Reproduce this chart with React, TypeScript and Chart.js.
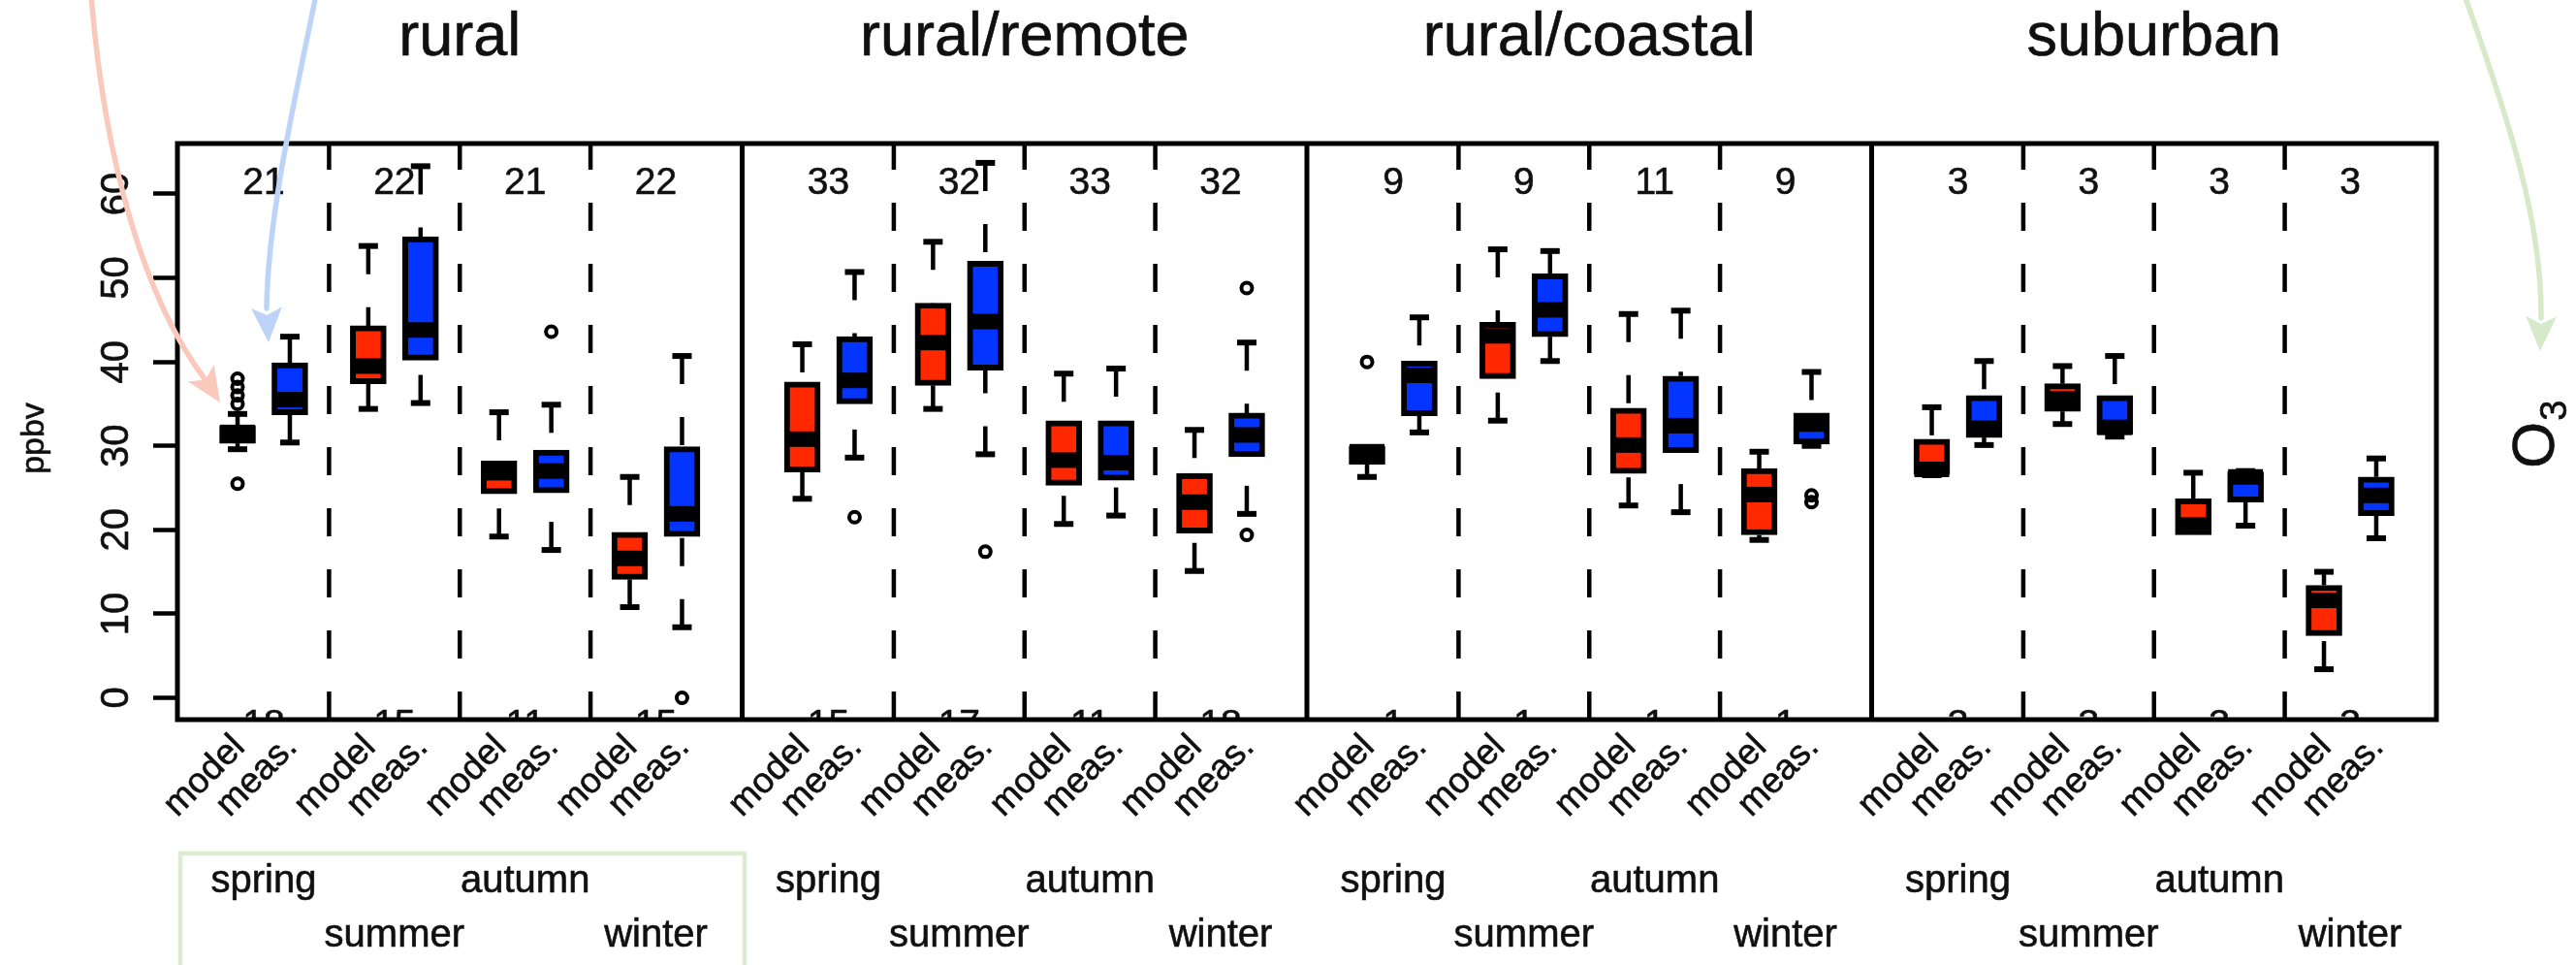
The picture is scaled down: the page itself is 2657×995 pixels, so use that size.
import React, { useEffect, useRef } from 'react';
import { Chart, registerables } from 'chart.js';

Chart.register(...registerables);

const CANVAS_W = 2657;
const CANVAS_H = 995;

const panelNames = ['rural', 'rural/remote', 'rural/coastal', 'suburban'];
const seasonNames = ['spring', 'summer', 'autumn', 'winter'];
const sourceNames = ['model', 'meas.'];
const yTickValues = [0, 10, 20, 30, 40, 50, 60];

const stationCountsTop = [
  ['21', '22', '21', '22'],
  ['33', '32', '33', '32'],
  ['9', '9', '11', '9'],
  ['3', '3', '3', '3'],
];
const stationCountsBottom = [
  ['18', '15', '11', '15'],
  ['15', '17', '11', '18'],
  ['1', '1', '1', '1'],
  ['3', '3', '3', '3'],
];

// [lower whisker, Q1, median, Q3, upper whisker] for spring, summer, autumn, winter (ppbv)
const ruralModel = [
  [29.6, 30.3, 31.6, 32.4, 33.8],
  [34.4, 37.4, 39.5, 44.3, 53.8],
  [19.2, 24.3, 26.8, 28.2, 34.0],
  [10.8, 14.1, 16.6, 19.7, 26.3],
];
const ruralMeas = [
  [30.4, 33.7, 35.5, 39.9, 43.0],
  [35.1, 40.2, 43.8, 54.9, 63.3],
  [17.6, 24.4, 27.0, 29.5, 34.9],
  [8.4, 19.2, 21.9, 29.9, 40.7],
];
const remoteModel = [
  [23.7, 26.9, 30.8, 37.6, 42.1],
  [34.4, 37.2, 42.3, 47.0, 54.3],
  [20.7, 25.3, 28.3, 33.0, 38.6],
  [15.1, 19.6, 23.3, 26.7, 31.9],
];
const remoteMeas = [
  [28.6, 35.0, 37.8, 43.0, 50.7],
  [29.0, 39.0, 44.8, 52.0, 63.7],
  [21.7, 25.9, 28.0, 33.0, 39.2],
  [21.9, 28.7, 31.3, 33.9, 42.3],
];
const coastalModel = [
  [26.3, 27.8, 29.3, 30.0, 30.0],
  [33.0, 38.0, 43.1, 44.7, 53.4],
  [22.9, 26.7, 30.1, 34.5, 45.7],
  [18.8, 19.4, 24.2, 27.3, 29.3],
];
const coastalMeas = [
  [31.6, 33.6, 38.4, 40.1, 45.3],
  [40.1, 43.0, 46.2, 50.5, 53.2],
  [22.1, 29.2, 32.4, 38.3, 46.1],
  [30.0, 30.2, 32.6, 33.9, 38.8],
];
const suburbanModel = [
  [26.5, 26.6, 27.2, 30.8, 34.6],
  [32.6, 34.1, 35.6, 37.4, 39.5],
  [19.4, 19.4, 20.6, 23.7, 26.8],
  [3.4, 7.4, 11.6, 13.4, 15.0],
];
const suburbanMeas = [
  [30.1, 31.0, 32.1, 36.0, 40.1],
  [31.1, 31.4, 32.2, 36.0, 40.7],
  [20.5, 23.3, 26.3, 26.9, 27.0],
  [19.0, 21.7, 24.1, 26.3, 28.5],
];

// outliers per season
const ruralModelOutliers = [[25.5, 35.0, 36.0, 37.0, 38.0], [], [], []];
const ruralMeasOutliers = [[], [], [43.6], [0.0]];
const remoteModelOutliers = [[], [], [], []];
const remoteMeasOutliers = [[21.5], [17.4], [], [19.4, 48.8]];
const coastalModelOutliers = [[40.0], [], [], []];
const coastalMeasOutliers = [[], [], [], [23.3, 24.1]];
const suburbanModelOutliers = [[], [], [], []];
const suburbanMeasOutliers = [[], [], [], []];

const modelStats = [ruralModel, remoteModel, coastalModel, suburbanModel];
const measStats = [ruralMeas, remoteMeas, coastalMeas, suburbanMeas];
const modelOutliers = [ruralModelOutliers, remoteModelOutliers, coastalModelOutliers, suburbanModelOutliers];
const measOutliers = [ruralMeasOutliers, remoteMeasOutliers, coastalMeasOutliers, suburbanMeasOutliers];

// x-axis layout (units of box spacing)
const PANEL_SPAN = 10.8;
const SLOT = [1.15, 2.15, 3.65, 4.65, 6.15, 7.15, 8.65, 9.65];
const SEPARATORS = [2.9, 5.4, 7.9];

const RED = '#ff2800';
const BLUE = '#0434ff';
const TEXT = '#101010';
const FONT = "'Liberation Sans', Arial, Helvetica, sans-serif";

type Box = { x: number; stats: number[]; source: number };

const boxes: Box[] = [];
const outlierPoints: { x: number; y: number }[] = [];
panelNames.forEach((_, p) => {
  seasonNames.forEach((__, s) => {
    [0, 1].forEach((g) => {
      const x = p * PANEL_SPAN + SLOT[s * 2 + g];
      const stats = (g === 0 ? modelStats : measStats)[p][s];
      boxes.push({ x, stats, source: g });
      const outs = (g === 0 ? modelOutliers : measOutliers)[p][s];
      outs.forEach((v) => outlierPoints.push({ x, y: v }));
    });
  });
});

function drawText(
  ctx: CanvasRenderingContext2D,
  str: string,
  x: number,
  y: number,
  size: number,
  align: CanvasTextAlign,
  rot = 0,
  color = TEXT
) {
  ctx.save();
  ctx.translate(x, y);
  if (rot) ctx.rotate(rot);
  ctx.font = `${size}px ${FONT}`;
  ctx.fillStyle = color;
  ctx.strokeStyle = color;
  ctx.lineWidth = 0.6;
  ctx.textAlign = align;
  ctx.textBaseline = 'alphabetic';
  ctx.fillText(str, 0, 0);
  ctx.strokeText(str, 0, 0);
  ctx.restore();
}

function drawArrow(
  ctx: CanvasRenderingContext2D,
  pts: number[],
  tip: [number, number],
  color: string
) {
  const [x0, y0, c1x, c1y, c2x, c2y, x1, y1] = pts;
  ctx.save();
  ctx.strokeStyle = color;
  ctx.fillStyle = color;
  ctx.lineWidth = 5.5;
  ctx.lineCap = 'round';
  ctx.beginPath();
  ctx.moveTo(x0, y0);
  ctx.bezierCurveTo(c1x, c1y, c2x, c2y, x1, y1);
  ctx.stroke();
  const dx = tip[0] - x1;
  const dy = tip[1] - y1;
  const len = Math.hypot(dx, dy);
  const ux = dx / len;
  const uy = dy / len;
  const L = 36;
  const w = 16;
  const bx = tip[0] - ux * L;
  const by = tip[1] - uy * L;
  const nx = tip[0] - ux * L * 0.78;
  const ny = tip[1] - uy * L * 0.78;
  ctx.beginPath();
  ctx.moveTo(tip[0], tip[1]);
  ctx.lineTo(bx - uy * w, by + ux * w);
  ctx.lineTo(nx, ny);
  ctx.lineTo(bx + uy * w, by - ux * w);
  ctx.closePath();
  ctx.fill();
  ctx.restore();
}

const decorPlugin = {
  id: 'boxDecor',
  beforeDatasetsDraw(chart: any) {
    const { ctx, chartArea } = chart;
    const xs = chart.scales.x;
    const ys = chart.scales.y;
    ctx.save();
    ctx.strokeStyle = '#000';
    ctx.lineCap = 'butt';
    // dashed season separators
    ctx.lineWidth = 4.5;
    ctx.setLineDash([29, 34]);
    panelNames.forEach((_, p) => {
      SEPARATORS.forEach((s) => {
        const px = xs.getPixelForValue(p * PANEL_SPAN + s);
        ctx.beginPath();
        ctx.moveTo(px, chartArea.bottom);
        ctx.lineTo(px, chartArea.top);
        ctx.stroke();
      });
    });
    // whiskers (dashed, drawn from the staple toward the box)
    ctx.lineWidth = 4.5;
    boxes.forEach((b) => {
      const px = xs.getPixelForValue(b.x);
      const [lo, q1, , q3, hi] = b.stats;
      if (lo < q1) {
        ctx.beginPath();
        ctx.moveTo(px, ys.getPixelForValue(lo));
        ctx.lineTo(px, ys.getPixelForValue(q1));
        ctx.stroke();
      }
      if (hi > q3) {
        ctx.beginPath();
        ctx.moveTo(px, ys.getPixelForValue(hi));
        ctx.lineTo(px, ys.getPixelForValue(q3));
        ctx.stroke();
      }
    });
    // staples
    ctx.setLineDash([]);
    ctx.lineWidth = 6;
    boxes.forEach((b) => {
      const px = xs.getPixelForValue(b.x);
      const [lo, q1, , q3, hi] = b.stats;
      [[lo, q1], [hi, q3]].forEach(([v, edge]) => {
        if (v === edge) return;
        const py = ys.getPixelForValue(v);
        ctx.beginPath();
        ctx.moveTo(px - 10, py);
        ctx.lineTo(px + 10, py);
        ctx.stroke();
      });
    });
    ctx.restore();
  },
  afterDatasetsDraw(chart: any) {
    const { ctx, chartArea } = chart;
    const xs = chart.scales.x;
    const ys = chart.scales.y;
    ctx.save();
    // medians
    ctx.fillStyle = '#000';
    boxes.forEach((b) => {
      const px = xs.getPixelForValue(b.x);
      const py = ys.getPixelForValue(b.stats[2]);
      ctx.fillRect(px - 18, py - 8, 36, 16);
    });
    // bottom counts, clipped by the plot region
    ctx.save();
    ctx.beginPath();
    ctx.rect(chartArea.left, chartArea.top, chartArea.right - chartArea.left, chartArea.bottom - chartArea.top);
    ctx.clip();
    panelNames.forEach((_, p) => {
      seasonNames.forEach((__, s) => {
        const cx = xs.getPixelForValue(p * PANEL_SPAN + (SLOT[2 * s] + SLOT[2 * s + 1]) / 2);
        drawText(ctx, stationCountsBottom[p][s], cx, ys.getPixelForValue(0) + 40, 39, 'center');
      });
    });
    ctx.restore();
    // frames
    ctx.strokeStyle = '#000';
    ctx.lineWidth = 5;
    ctx.strokeRect(chartArea.left, chartArea.top, chartArea.right - chartArea.left, chartArea.bottom - chartArea.top);
    for (let p = 1; p < panelNames.length; p++) {
      const px = xs.getPixelForValue(p * PANEL_SPAN);
      ctx.beginPath();
      ctx.moveTo(px, chartArea.top);
      ctx.lineTo(px, chartArea.bottom);
      ctx.stroke();
    }
    // titles, counts, labels
    panelNames.forEach((name, p) => {
      const cx = xs.getPixelForValue(p * PANEL_SPAN + PANEL_SPAN / 2);
      drawText(ctx, name, cx, 57, 63, 'center');
      seasonNames.forEach((season, s) => {
        const pairCenter = xs.getPixelForValue(p * PANEL_SPAN + (SLOT[2 * s] + SLOT[2 * s + 1]) / 2);
        drawText(ctx, stationCountsTop[p][s], pairCenter, ys.getPixelForValue(60), 39, 'center');
        drawText(ctx, season, pairCenter, s % 2 === 0 ? 920 : 976, 40, 'center');
        sourceNames.forEach((src, g) => {
          const bx = xs.getPixelForValue(p * PANEL_SPAN + SLOT[2 * s + g]);
          drawText(ctx, src, bx + 9, chartArea.bottom + 30, 37, 'right', -Math.PI / 4);
        });
      });
    });
    // y tick labels
    yTickValues.forEach((v) => {
      drawText(ctx, String(v), 132, ys.getPixelForValue(v), 40, 'center', -Math.PI / 2);
    });
    drawText(ctx, 'ppbv', 45, 452, 34, 'center', -Math.PI / 2);
    // O3 label
    ctx.save();
    ctx.translate(2634, 483);
    ctx.rotate(-Math.PI / 2);
    ctx.fillStyle = TEXT;
    ctx.strokeStyle = TEXT;
    ctx.lineWidth = 0.6;
    ctx.textAlign = 'left';
    ctx.textBaseline = 'alphabetic';
    ctx.font = `62px ${FONT}`;
    ctx.fillText('O', 0, 0);
    ctx.strokeText('O', 0, 0);
    const ow = ctx.measureText('O').width;
    ctx.font = `38px ${FONT}`;
    ctx.fillText('3', ow + 1, 13);
    ctx.strokeText('3', ow + 1, 13);
    ctx.restore();
    // season legend box
    ctx.strokeStyle = '#dcebd2';
    ctx.lineWidth = 4.5;
    ctx.strokeRect(186, 880, 582, 130);
    // annotation arrows
    drawArrow(ctx, [94, -5, 108, 170, 150, 310, 212, 392], [227, 415], '#f9c9bc');
    drawArrow(ctx, [326, -5, 300, 120, 276, 230, 275, 318], [277, 353], '#bed3f9');
    drawArrow(ctx, [2542, -5, 2590, 130, 2622, 230, 2621, 328], [2620, 362], '#d6e9c9');
    ctx.restore();
  },
};

export default function App() {
  const ref = useRef<HTMLCanvasElement | null>(null);
  useEffect(() => {
    document.body.style.margin = '0';
    document.body.style.overflow = 'hidden';
    const canvas = ref.current;
    if (!canvas) return;
    const modelBoxes = boxes.filter((b) => b.source === 0);
    const measBoxes = boxes.filter((b) => b.source === 1);
    const chart = new Chart(canvas, {
      type: 'bar',
      data: {
        datasets: [
          {
            label: 'model',
            data: modelBoxes.map((b) => ({ x: b.x, y: [b.stats[1], b.stats[3]] })) as any,
            backgroundColor: RED,
            borderColor: '#000',
            borderWidth: 6,
            borderSkipped: false,
            barThickness: 37,
            grouped: false,
          } as any,
          {
            label: 'meas.',
            data: measBoxes.map((b) => ({ x: b.x, y: [b.stats[1], b.stats[3]] })) as any,
            backgroundColor: BLUE,
            borderColor: '#000',
            borderWidth: 6,
            borderSkipped: false,
            barThickness: 37,
            grouped: false,
          } as any,
          {
            type: 'scatter',
            label: 'outliers',
            data: outlierPoints as any,
            pointRadius: 5.5,
            pointHoverRadius: 5.5,
            pointBorderWidth: 4,
            borderColor: '#000',
            backgroundColor: 'rgba(0,0,0,0)',
            showLine: false,
          } as any,
        ],
      },
      options: {
        animation: false,
        responsive: false,
        maintainAspectRatio: false,
        devicePixelRatio: 1,
        events: [],
        layout: { padding: { left: 0, right: 144, top: 148, bottom: 0 } },
        plugins: {
          legend: { display: false },
          tooltip: { enabled: false },
          title: { display: false },
        },
        scales: {
          x: {
            type: 'linear',
            min: 0,
            max: PANEL_SPAN * panelNames.length,
            offset: false,
            grid: { display: false },
            border: { display: false },
            ticks: { display: false },
            afterFit: (s: any) => {
              s.height = CANVAS_H - 742;
            },
          },
          y: {
            type: 'linear',
            min: -2.6,
            max: 66,
            beginAtZero: false,
            grid: {
              drawOnChartArea: false,
              drawTicks: true,
              tickLength: 25,
              tickWidth: 4.5,
              tickColor: '#000',
            },
            border: { display: false },
            ticks: { display: false },
            afterBuildTicks: (s: any) => {
              s.ticks = yTickValues.map((v) => ({ value: v }));
            },
            afterFit: (s: any) => {
              s.width = 183;
            },
          },
        } as any,
      },
      plugins: [decorPlugin],
    });
    return () => chart.destroy();
  }, []);
  return (
    <canvas
      ref={ref}
      width={CANVAS_W}
      height={CANVAS_H}
      style={{ display: 'block', width: `${CANVAS_W}px`, height: `${CANVAS_H}px` }}
    />
  );
}
